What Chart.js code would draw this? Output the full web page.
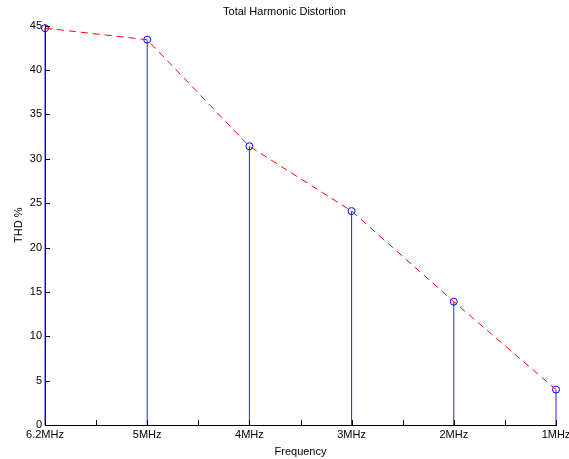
<!DOCTYPE html>
<html>
<head>
<meta charset="utf-8">
<script src="https://cdn.jsdelivr.net/npm/chart.js@4/dist/chart.umd.min.js"></script>
<style>
  body { margin: 0; background: #fff; }
  canvas { display: block; }
</style>
</head>
<body>
<canvas id="thd" width="569" height="459"></canvas>
<script>
// frequency labels, left to right on the x axis
const freqLabels = ['6.2MHz', '5MHz', '4MHz', '3MHz', '2MHz', '1MHz'];
// THD %
const thdValues = [44.7, 43.4, 31.4, 24.1, 13.9, 4.0];
const yTicks = [0, 5, 10, 15, 20, 25, 30, 35, 40, 45];

const points = thdValues.map((v, i) => ({ x: i, y: v }));
// stems: baseline -> value, then a gap
const stems = thdValues.flatMap((v, i) => [{ x: i, y: 0 }, { x: i, y: v }, { x: i, y: null }]);

// MATLAB style ticks that point into the plot
const inwardTicks = {
    id: 'inwardTicks',
    afterDraw(chart) {
        const ctx = chart.ctx;
        const xs = chart.scales.x, ys = chart.scales.y;
        ctx.save();
        ctx.strokeStyle = '#000';
        ctx.lineWidth = 1;
        ctx.beginPath();
        xs.ticks.forEach(t => {
            const px = Math.round(xs.getPixelForValue(t.value)) + 0.5;
            ctx.moveTo(px, ys.bottom);
            ctx.lineTo(px, ys.bottom - 5);
        });
        ys.ticks.forEach(t => {
            const py = Math.round(ys.getPixelForValue(t.value)) + 0.5;
            ctx.moveTo(xs.left, py);
            ctx.lineTo(xs.left + 5, py);
        });
        ctx.stroke();
        ctx.restore();
    }
};

const font = { family: '"Liberation Sans", Arial, sans-serif', size: 11 };

new Chart(document.getElementById('thd'), {
    type: 'line',
    data: {
        datasets: [
            {
                data: points,
                borderColor: '#ff0000',
                borderWidth: 1,
                borderDash: [7, 5],
                pointRadius: 0,
                fill: false,
                clip: false,
                order: 0
            },
            {
                type: 'scatter',
                data: points,
                pointStyle: 'circle',
                pointRadius: 3.5,
                pointBorderColor: '#0000ff',
                pointBackgroundColor: 'rgba(0,0,0,0)',
                pointBorderWidth: 1,
                clip: false,
                order: 1
            },
            {
                data: stems,
                borderColor: '#2020ff',
                borderWidth: 1,
                pointRadius: 0,
                spanGaps: false,
                fill: false,
                clip: false,
                order: 2
            }
        ]
    },
    options: {
        responsive: false,
        animation: false,
        layout: { padding: { left: 0, right: 0, top: 0, bottom: 0.5 } },
        plugins: {
            legend: { display: false },
            tooltip: { enabled: false },
            title: {
                display: true,
                text: 'Total Harmonic Distortion',
                color: '#000',
                font: { ...font, weight: 'normal' },
                padding: { top: 5, bottom: 7.3 }
            }
        },
        scales: {
            x: {
                type: 'linear',
                min: 0,
                max: 5,
                offset: false,
                afterFit: s => { s.paddingRight = 13; },
                grid: { display: true, drawOnChartArea: false, drawTicks: false },
                border: { display: true, color: '#000', width: 1 },
                ticks: {
                    stepSize: 0.5,
                    autoSkip: false,
                    maxRotation: 0,
                    padding: 3.5,
                    color: '#000',
                    font: font,
                    callback: v => Number.isInteger(v) ? freqLabels[v] : ''
                },
                title: {
                    display: true,
                    text: 'Frequency',
                    color: '#000',
                    font: font,
                    padding: { top: 0, bottom: 0 }
                }
            },
            y: {
                min: 0,
                max: 45,
                afterBuildTicks: s => { s.ticks = yTicks.map(v => ({ value: v })); },
                afterFit: s => { s.width = 45; },
                grid: { display: true, drawOnChartArea: false, drawTicks: false },
                border: { display: true, color: '#000', width: 1 },
                ticks: { padding: 3, color: '#000', font: font },
                title: {
                    display: true,
                    text: 'THD %',
                    color: '#000',
                    font: font,
                    padding: { top: 12, bottom: 0 }
                }
            }
        }
    },
    plugins: [inwardTicks]
});
</script>
</body>
</html>
